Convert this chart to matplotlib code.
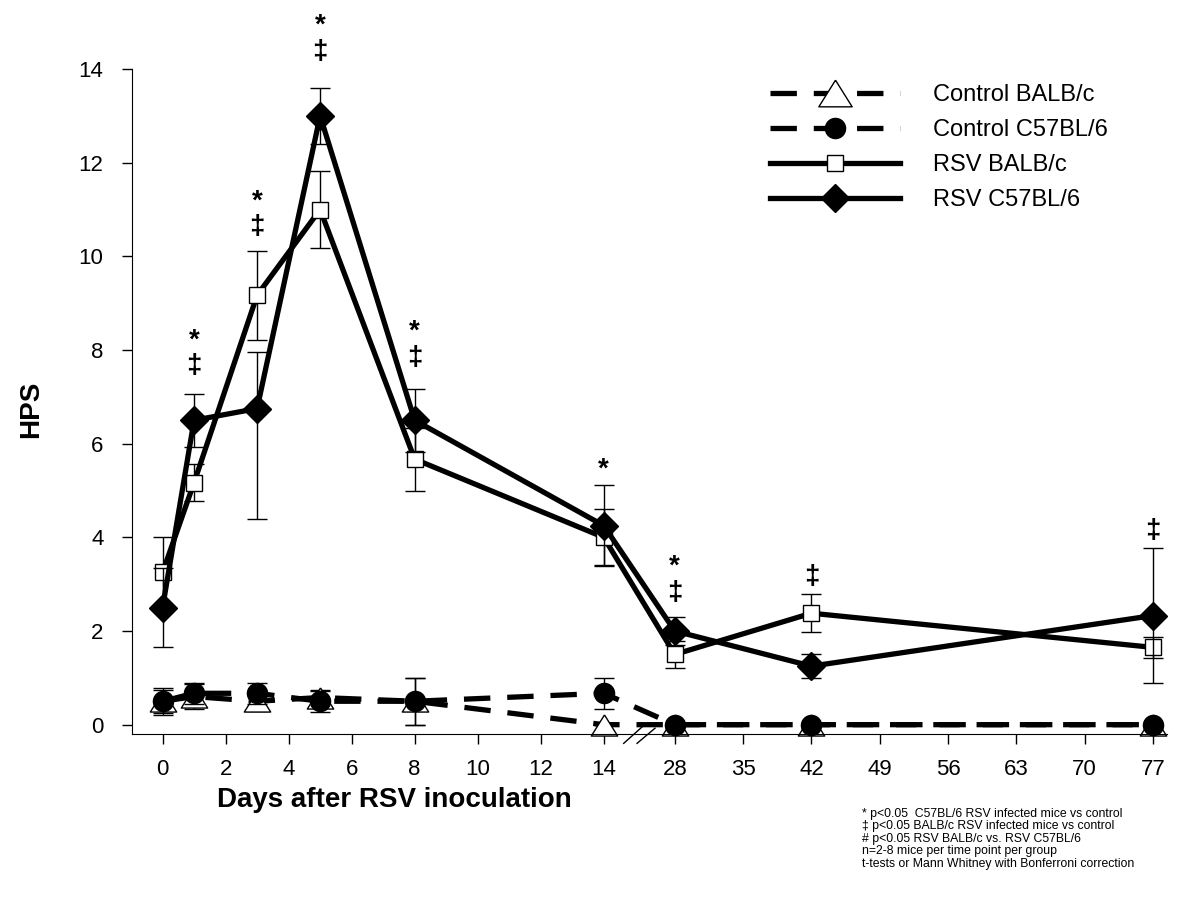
import numpy as np
import matplotlib
matplotlib.use("Agg")
import matplotlib.pyplot as plt
from matplotlib.path import Path

plt.rcParams["font.family"] = ["Liberation Sans", "DejaVu Sans"]

# data
days = [0, 1, 3, 5, 8, 14, 28, 42, 77]

ctrl_balb = [0.5, 0.6, 0.5, 0.58, 0.5, 0.0, 0.0, 0.0, 0.0]
ctrl_balb_err = [0.29, 0.27, 0.2, 0.15, 0.5, 0.0, 0.0, 0.0, 0.0]
ctrl_c57 = [0.5, 0.67, 0.67, 0.5, 0.5, 0.67, 0.0, 0.0, 0.0]
ctrl_c57_err = [0.25, 0.22, 0.22, 0.22, 0.5, 0.33, 0.0, 0.0, 0.0]
rsv_balb = [3.25, 5.17, 9.17, 11.0, 5.67, 4.0, 1.5, 2.38, 1.65]
rsv_balb_err = [0.75, 0.4, 0.95, 0.82, 0.67, 0.6, 0.28, 0.41, 0.23]
rsv_c57 = [2.5, 6.5, 6.75, 13.0, 6.5, 4.25, 2.0, 1.25, 2.33]
rsv_c57_err_lo = [0.85, 0.57, 2.35, 0.6, 0.67, 0.86, 0.3, 0.25, 1.45]
rsv_c57_err_hi = [0.85, 0.57, 1.2, 0.6, 0.67, 0.86, 0.3, 0.25, 1.45]

# significance symbols above each time point (y = centre of the symbol block)
sig_days = [1, 3, 5, 8, 14, 28, 42, 77]
sig_y = [7.99, 10.96, 14.70, 8.17, 5.6, 3.15, 3.21, 4.19]
sig_sym = ["*\n‡", "*\n‡", "*\n‡", "*\n‡", "*", "*\n‡", "‡", "‡"]

x_ticks = [0, 2, 4, 6, 8, 10, 12, 14, 28, 35, 42, 49, 56, 63, 70, 77]
y_ticks = [0, 2, 4, 6, 8, 10, 12, 14]

footnote = ("* p<0.05  C57BL/6 RSV infected mice vs control\n"
            "‡ p<0.05 BALB/c RSV infected mice vs control\n"
            "# p<0.05 RSV BALB/c vs. RSV C57BL/6\n"
            "n=2-8 mice per time point per group\n"
            "t-tests or Mann Whitney with Bonferroni correction")


# broken x axis: 0-14 days at 2 days/unit, a gap, then 28-77 at 7 days/unit
GAP = 71 / 63
SEG2 = 68.3 / 63


def forward(d):
    d = np.asarray(d, float)
    return np.where(d <= 14, d / 2,
                    np.where(d < 28, 7 + (d - 14) / 14 * GAP,
                             7 + GAP + (d - 28) / 7 * SEG2))


def inverse(u):
    u = np.asarray(u, float)
    return np.where(u <= 7, u * 2,
                    np.where(u < 7 + GAP, 14 + (u - 7) / GAP * 14,
                             28 + (u - 7 - GAP) / SEG2 * 7))


fig = plt.figure(figsize=(12, 9), dpi=100)
ax = fig.add_axes([0.11, 0.1844, 0.8625, 0.7389])
ax.set_xscale("function", functions=(forward, inverse))

tri = Path([(0, 0.8), (-1, -0.8), (1, -0.8), (0, 0.8)])
lw = 3.8
dash = (5.0, 3.2)

series = [
    (ctrl_balb, [ctrl_balb_err, ctrl_balb_err], "Control BALB/c", tri, 19, "white", dash),
    (ctrl_c57, [ctrl_c57_err, ctrl_c57_err], "Control C57BL/6", "o", 14.5, "black", dash),
    (rsv_balb, [rsv_balb_err, rsv_balb_err], "RSV BALB/c", "s", 12.2, "white", None),
    (rsv_c57, [rsv_c57_err_lo, rsv_c57_err_hi], "RSV C57BL/6", "D", 14.5, "black", None),
]

for i, (vals, errs, label, mk, ms, fc, ds) in enumerate(series):
    ax.errorbar(days, vals, yerr=errs, fmt="none", ecolor="black",
                elinewidth=1, capsize=7, capthick=1, zorder=2 + i)
    ln, = ax.plot(days, vals, color="black", lw=lw, marker=mk, ms=ms,
                  mfc=fc, mec="black", mew=1, label=label, zorder=2.5 + i,
                  clip_on=False)
    if ds is not None:
        ln.set_dashes(ds)

for d, y, s in zip(sig_days, sig_y, sig_sym):
    off = -5 if s == "*" else -2
    ax.annotate(s, (d, y), xytext=(0, off), textcoords="offset points",
                ha="center", va="center", fontsize=20, fontweight="bold",
                linespacing=1.0, annotation_clip=False)

ax.set_xlim(-0.97, 78.43)
ax.set_ylim(-0.2, 14)
ax.set_xticks(x_ticks)
ax.set_xticklabels([str(t) for t in x_ticks])
ax.set_yticks(y_ticks)
ax.minorticks_off()

ax.spines["top"].set_visible(False)
ax.spines["right"].set_visible(False)
ax.spines["left"].set_bounds(-0.2, 14)
ax.tick_params(axis="both", direction="out", length=7, width=1, labelsize=16)
ax.tick_params(axis="x", pad=11)
ax.tick_params(axis="y", pad=13.5)

# axis break symbol in the gap between 14 and 28
brk = Path([(-16.3, -9.3), (5.3, 10), (-3, -9.3), (16, 6.7)],
           [Path.MOVETO, Path.LINETO, Path.MOVETO, Path.LINETO])
ax.plot([21], [0], marker=brk, ms=23.5, mew=1, mec="black", mfc="none",
        transform=ax.get_xaxis_transform(), clip_on=False, ls="none")

ax.set_ylabel("HPS", fontsize=20, fontweight="bold", va="center")
ax.yaxis.set_label_coords(-0.0976, 0.489)
ax.set_xlabel("Days after RSV inoculation", fontsize=20, fontweight="bold",
              va="center")
ax.xaxis.set_label_coords(0.2531, -0.0992)

leg = ax.legend(loc="upper left", bbox_to_anchor=(770 / 1200, 1 - 84 / 900),
                bbox_transform=fig.transFigure, frameon=False, fontsize=17,
                handlelength=5.5, handletextpad=1.4, labelspacing=0.55,
                borderpad=0, borderaxespad=0)
leg.legend_handles[0].set_markersize(24)

fig.text(862 / 1200, 1 - 808 / 900, footnote, fontsize=8.8, va="top",
         ha="left", linespacing=1.05)

fig.savefig("out.png", dpi=100)
plt.close(fig)
